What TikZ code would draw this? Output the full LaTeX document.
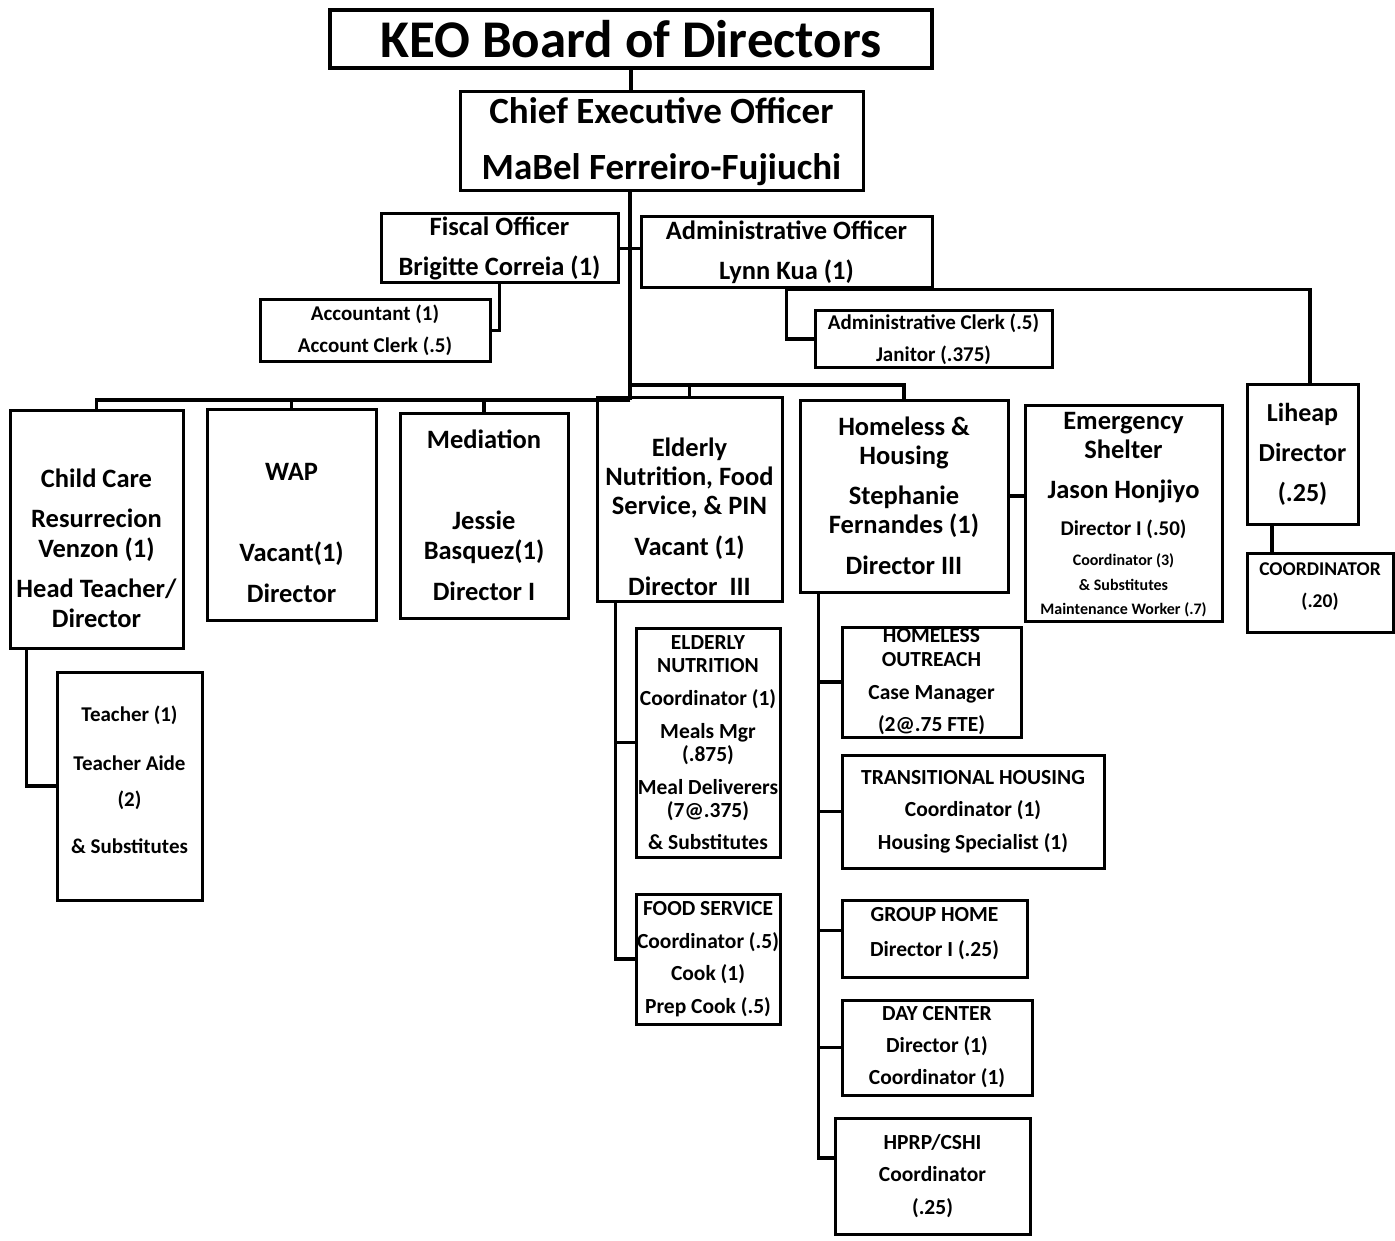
\documentclass[tikz,border=0pt]{standalone}
\usepackage{fontspec}
\setmainfont{Carlito}
\usepackage{tikz}

\newcommand{\fsz}[2]{\fontsize{#1}{#2}\selectfont\bfseries}

\begin{document}
\begin{tikzpicture}[
                    x=1pt, y=-1pt,
                    unit/.style 2 args={draw, line width=3pt, inner sep=0pt,
                        execute at begin node={\begin{minipage}[c][#2pt][c]{#1pt}\centering},
                        execute at end node={\end{minipage}}},
                    link/.style={line width=3.5pt}
            ]
                \useasboundingbox[fill=white] (0,0) rectangle (1395,1241);

                % top of the chart
                \node [unit={602}{58}, line width=4pt] (brd) at (631,39) {\fsz{53}{60}KEO Board of Directors\par};
                \node [unit={403}{99}] (ceo) at (661.5,141.5) {\fsz{37}{56}Chief Executive Officer\\MaBel Ferreiro-Fujiuchi\par};
                \node [unit={237}{69}] (fis) at (499.5,248.5) {\fsz{26.5}{40}Fiscal Officer\\Brigitte Correia (1)\par};
                \node [unit={291}{71}] (adm) at (786.5,252.5) {\fsz{26.5}{40}Administrative Officer\\Lynn Kua (1)\par};
                \node [unit={230}{61}] (acc) at (375,330.5) {\fsz{21}{32}Accountant (1)\\Account Clerk (.5)\par};
                \node [unit={237}{56}] (clk) at (933.5,339) {\fsz{21}{32}Administrative Clerk (.5)\\Janitor (.375)\par};
                \node [unit={111}{140}] (lih) at (1302.5,454) {\fsz{26}{40}Liheap\\Director\\(.25)\par};
                \node [unit={146}{79}] (lco) at (1320,592.5) {\vspace*{-12pt}\fsz{19.5}{32}COORDINATOR\\(.20)\par};

                % programs
                \node [unit={173}{238}] (chc) at (96.5,529) {\vspace*{38pt}\fsz{26.5}{30}Child Care\\[10pt]Resurrecion\\Venzon (1)\\[10pt]Head Teacher/\\Director\par};
                \node [unit={169}{211}] (wap) at (291.5,514.5) {\vspace*{37pt}\fsz{26.5}{30}WAP\\[51pt]Vacant(1)\\[11pt]Director\par};
                \node [unit={168}{205}] (med) at (484,515.5) {\fsz{26.5}{30}Mediation\\[51pt]Jessie\\Basquez(1)\\[11pt]Director I\par};
                \node [unit={185}{204}] (eld) at (689.5,499) {\vspace*{36pt}\fsz{26.5}{29}Elderly\\Nutrition, Food\\Service, \& PIN\\[12pt]Vacant (1)\\[11pt]Director~~III\par};
                \node [unit={208}{192}] (hom) at (904,496) {\fsz{26.5}{29}Homeless \&\\Housing\\[11pt]Stephanie\\Fernandes (1)\\[12pt]Director III\par};
                \node [unit={197}{216}] (ems) at (1123.5,513) {\vspace*{4pt}\fsz{26.5}{29}Emergency\\Shelter\par
                    \fsz{26.5}{40}Jason Honjiyo\par
                    \fsz{21}{37}Director I (.50)\par
                    \fsz{16}{30}Coordinator (3)\par
                    \fsz{16}{25}\& Substitutes\par
                    \fsz{16}{24}Maintenance Worker (.7)\par};

                % staff under the programs
                \node [unit={145}{228}] (tch) at (129.5,786) {\vspace*{-12pt}\fsz{21}{36}Teacher (1)\\[13pt]Teacher Aide\\(2)\\[11pt]\& Substitutes\par};
                \node [unit={144}{229}] (enu) at (708,742.5) {\fsz{21.5}{23}ELDERLY\\NUTRITION\\[10pt]Coordinator (1)\\[10pt]Meals Mgr\\(.875)\\[10pt]Meal Deliverers\\(7@.375)\\[9pt]\& Substitutes\par};
                \node [unit={144}{130}] (fsv) at (708,959) {\fsz{21.5}{32.5}FOOD SERVICE\\Coordinator (.5)\\Cook (1)\\Prep Cook (.5)\par};
                \node [unit={179}{110}] (hou) at (931.5,682) {\fsz{21.5}{24}HOMELESS\\OUTREACH\\[9pt]Case Manager\\[8pt](2@.75 FTE)\par};
                \node [unit={262}{113}] (trh) at (973,811.5) {\fsz{21.5}{32.5}TRANSITIONAL HOUSING\\Coordinator (1)\\Housing Specialist (1)\par};
                \node [unit={185}{77}] (grh) at (934.5,938.5) {\vspace*{-10pt}\fsz{21.5}{35}GROUP HOME\\Director I (.25)\par};
                \node [unit={190}{95}] (dce) at (937,1047.5) {\fsz{21.5}{32}DAY CENTER\\Director (1)\\Coordinator (1)\par};
                \node [unit={195}{116}] (hpr) at (932.5,1176) {\fsz{21.5}{32.5}HPRP/CSHI\\Coordinator\\(.25)\par};

                % lines
                \coordinate (lbus) at (630,400);
                \coordinate (rbus) at (630,385);
                \coordinate (accj) at ([xshift=8pt]acc.east);
                \coordinate (lihj) at ([xshift=7.5pt]lih.north);
                \coordinate (lcoj) at ([xshift=-30.5pt]lih.south);
                \coordinate (chcj) at ([xshift=18pt]chc.south west);
                \coordinate (eldj) at ([xshift=20pt]eld.south west);
                \coordinate (homj) at ([xshift=20pt]hom.south west);

                \draw [link] (brd.south) -- (brd.south |- ceo.north);
                \draw [link] (ceo.south -| lbus) -- (lbus);
                \draw [link] (fis.east) -- (fis.east -| adm.west);
                \draw [link] (accj |- fis.south) |- (acc.east);
                \draw [link] (adm.south) |- (clk.west);
                \draw [link] (adm.south) -| (lihj);
                \draw [link] (lcoj) -- (lcoj |- lco.north);
                \draw [link] (lbus) -| (chc.north);
                \draw [link] (lbus) -| (wap.north);
                \draw [link] (lbus) -| (med.north);
                \draw [link] (rbus) -| (eld.north);
                \draw [link] (rbus) -| (hom.north);
                \draw [link] (hom.east) -- (hom.east -| ems.west);
                \draw [link] (chcj) |- (tch.west);
                \draw [link] (eldj) |- (enu.west);
                \draw [link] (eldj) |- (fsv.west);
                \draw [link] (homj) |- (hou.west);
                \draw [link] (homj) |- (trh.west);
                \draw [link] (homj) |- ([yshift=8pt]grh.west);
                \draw [link] (homj) |- (dce.west);
                \draw [link] (homj) |- ([yshift=18pt]hpr.west);
\end{tikzpicture}
\end{document}
